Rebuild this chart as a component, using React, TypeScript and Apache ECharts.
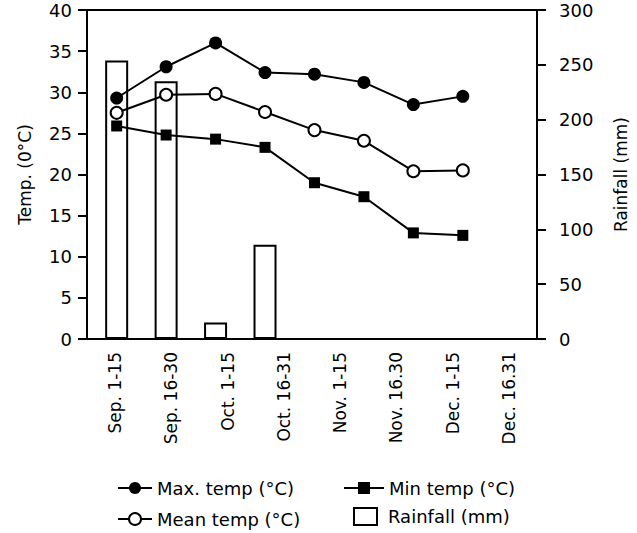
import React, { useEffect, useRef } from "react";
import * as echarts from "echarts";

const categories = [
  "Sep. 1-15",
  "Sep. 16-30",
  "Oct. 1-15",
  "Oct. 16-31",
  "Nov. 1-15",
  "Nov. 16.30",
  "Dec. 1-15",
  "Dec. 16.31",
];
const maxTemp = [29.3, 33.1, 36.0, 32.4, 32.2, 31.2, 28.5, 29.5];
const minTemp = [25.9, 24.8, 24.3, 23.3, 19.0, 17.3, 12.9, 12.6];
const meanTemp = [27.5, 29.7, 29.8, 27.6, 25.4, 24.1, 20.4, 20.5];
const rainfall = [254, 235, 15, 86];
const tempTicks = { min: 0, max: 40, interval: 5 };
const rainTicks = { min: 0, max: 300, interval: 50 };

const FONT = "DejaVu Sans";

export default function App() {
  const ref = useRef<HTMLDivElement>(null);
  useEffect(() => {
    if (!ref.current) return;
    const chart = echarts.init(ref.current, null, { renderer: "svg" });
    const pts = (arr: number[]) => arr.map((v, i) => [i, v]);
    const lineBase = {
      type: "line",
      xAxisIndex: 1,
      yAxisIndex: 0,
      lineStyle: { color: "#000", width: 2 },
      z: 3,
    };
    const legendText = { fontSize: 18, lineHeight: 20, color: "#000", fontFamily: FONT };
    chart.setOption({
      animation: false,
      backgroundColor: "#fff",
      textStyle: { fontFamily: FONT, color: "#000" },
      grid: {
        left: 87,
        top: 10,
        width: 451,
        height: 329,
        show: true,
        borderColor: "#000",
        borderWidth: 2,
        backgroundColor: "transparent",
      },
      xAxis: [
        {
          type: "category",
          data: categories,
          boundaryGap: true,
          axisLine: { onZero: false, lineStyle: { color: "#000", width: 2 } },
          axisTick: { length: 8, lineStyle: { color: "#000", width: 2 } },
          axisLabel: {
            rotate: 90,
            interval: 0,
            margin: 13,
            fontSize: 17,
            color: "#000",
            fontFamily: FONT,
          },
          splitLine: { show: false },
        },
        {
          type: "value",
          show: false,
          min: -0.6,
          max: 8.5,
          axisLine: { show: false, onZero: false },
          splitLine: { show: false },
        },
      ],
      yAxis: [
        {
          type: "value",
          position: "left",
          min: tempTicks.min,
          max: tempTicks.max,
          interval: tempTicks.interval,
          name: "Temp. (0°C)",
          nameLocation: "middle",
          nameGap: 54,
          nameTextStyle: { fontSize: 17, color: "#000", fontFamily: FONT },
          axisLine: { show: true, onZero: false, lineStyle: { color: "#000", width: 2 } },
          axisTick: { show: true, length: 9, lineStyle: { color: "#000", width: 2 } },
          axisLabel: { fontSize: 18, margin: 15, color: "#000", fontFamily: FONT },
          splitLine: { show: false },
        },
        {
          type: "value",
          position: "right",
          min: rainTicks.min,
          max: rainTicks.max,
          interval: rainTicks.interval,
          name: "Rainfall (mm)",
          nameLocation: "middle",
          nameGap: 75,
          nameTextStyle: { fontSize: 17, color: "#000", fontFamily: FONT },
          axisLine: { show: true, onZero: false, lineStyle: { color: "#000", width: 2 } },
          axisTick: { show: true, length: 9, lineStyle: { color: "#000", width: 2 } },
          axisLabel: { fontSize: 18, margin: 22, color: "#000", fontFamily: FONT },
          splitLine: { show: false },
        },
      ],
      legend: [
        {
          data: ["Max. temp (°C)"],
          left: 112,
          top: 473,
          itemWidth: 34,
          itemHeight: 15,
          textStyle: legendText,
        },
        {
          data: ["Mean temp (°C)"],
          left: 112,
          top: 504,
          itemWidth: 34,
          itemHeight: 15,
          textStyle: legendText,
        },
        {
          data: ["Min temp (°C)"],
          left: 338,
          top: 473,
          itemWidth: 40,
          itemHeight: 15,
          textStyle: legendText,
        },
        {
          data: [{ name: "Rainfall (mm)", icon: "rect" }],
          left: 348,
          top: 500,
          itemWidth: 23,
          itemHeight: 17,
          textStyle: { ...legendText, padding: [3, 0, 0, 6] },
        },
      ],
      series: [
        {
          name: "Rainfall (mm)",
          type: "bar",
          xAxisIndex: 1,
          yAxisIndex: 1,
          data: pts(rainfall),
          barWidth: 23,
          itemStyle: { color: "#fff", borderColor: "#000", borderWidth: 2 },
          z: 2,
        },
        {
          ...lineBase,
          name: "Max. temp (°C)",
          data: pts(maxTemp),
          symbol: "circle",
          symbolSize: 13,
          itemStyle: { color: "#000", borderColor: "#000", borderWidth: 0 },
        },
        {
          ...lineBase,
          name: "Min temp (°C)",
          data: pts(minTemp),
          symbol: "rect",
          symbolSize: 11,
          itemStyle: { color: "#000", borderColor: "#000", borderWidth: 0 },
        },
        {
          ...lineBase,
          name: "Mean temp (°C)",
          data: pts(meanTemp),
          symbol: "circle",
          symbolSize: 12,
          itemStyle: { color: "#fff", borderColor: "#000", borderWidth: 2 },
        },
      ],
    });
    return () => chart.dispose();
  }, []);
  return (
    <div
      ref={ref}
      style={{ position: "absolute", left: 0, top: 0, width: 637, height: 533 }}
    />
  );
}
